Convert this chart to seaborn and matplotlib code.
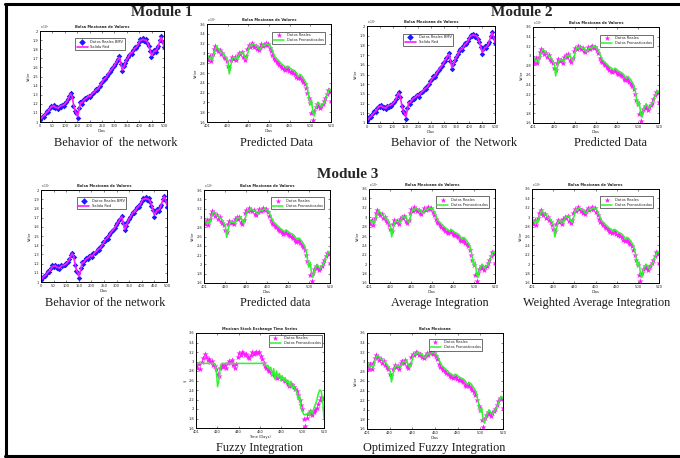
import numpy as np
import matplotlib
matplotlib.use("Agg")
import matplotlib.pyplot as plt
from matplotlib.lines import Line2D
import seaborn as sns

# Training period of the stock index (x 10^4): observed values and network output
growth_real = [1.02, 1.04, 1.07, 1.06, 1.10, 1.12, 1.11, 1.15, 1.18, 1.16,
               1.19, 1.15, 1.17, 1.14, 1.18, 1.17, 1.19, 1.18, 1.21, 1.22,
               1.25, 1.29, 1.32, 1.27, 1.18, 1.12, 1.10, 1.04, 1.15, 1.22,
               1.20, 1.24, 1.26, 1.25, 1.28, 1.29, 1.27, 1.31, 1.32, 1.33,
               1.36, 1.35, 1.38, 1.40, 1.43, 1.45, 1.48, 1.47, 1.51, 1.53,
               1.55, 1.57, 1.59, 1.62, 1.64, 1.67, 1.69, 1.72, 1.64, 1.56,
               1.61, 1.65, 1.68, 1.71, 1.74, 1.76, 1.75, 1.79, 1.82, 1.81,
               1.85, 1.88, 1.91, 1.90, 1.92, 1.89, 1.91, 1.87, 1.83, 1.78,
               1.71, 1.76, 1.79, 1.77, 1.81, 1.84, 1.90, 1.94, 1.88, 1.82]
growth_net = [1.03, 1.04, 1.06, 1.07, 1.09, 1.11, 1.12, 1.14, 1.17, 1.17,
              1.18, 1.16, 1.16, 1.15, 1.17, 1.18, 1.18, 1.19, 1.20, 1.22,
              1.24, 1.28, 1.31, 1.28, 1.20, 1.13, 1.10, 1.06, 1.13, 1.21,
              1.21, 1.23, 1.25, 1.26, 1.27, 1.29, 1.28, 1.30, 1.32, 1.33,
              1.35, 1.36, 1.37, 1.40, 1.42, 1.45, 1.47, 1.48, 1.50, 1.53,
              1.55, 1.57, 1.59, 1.61, 1.64, 1.66, 1.69, 1.71, 1.65, 1.57,
              1.60, 1.64, 1.68, 1.70, 1.73, 1.76, 1.76, 1.78, 1.81, 1.82,
              1.84, 1.87, 1.90, 1.90, 1.91, 1.90, 1.90, 1.88, 1.84, 1.79,
              1.73, 1.75, 1.78, 1.78, 1.80, 1.84, 1.89, 1.93, 1.89, 1.83]

# Test period: observed values, ensemble prediction and fuzzy-integrated prediction
test_real = [2.92, 2.86, 2.95, 2.84, 2.98, 3.08, 3.15, 3.10, 3.04, 3.06,
             2.98, 3.01, 2.93, 2.90, 2.84, 2.74, 2.70, 2.86, 2.93, 2.89,
             2.92, 2.86, 2.97, 3.01, 2.98, 3.03, 2.92, 2.87, 2.95, 3.10,
             3.17, 3.14, 3.21, 3.18, 3.14, 3.16, 3.09, 3.07, 3.13, 3.19,
             3.15, 3.18, 3.21, 3.17, 3.19, 3.12, 3.05, 2.96, 2.90, 2.87,
             2.83, 2.80, 2.77, 2.74, 2.71, 2.69, 2.66, 2.70, 2.68, 2.65,
             2.63, 2.62, 2.60, 2.57, 2.52, 2.49, 2.53, 2.50, 2.46, 2.42,
             2.38, 2.30, 2.20, 2.08, 1.99, 1.78, 1.65, 1.82, 1.90, 1.96,
             1.92, 1.88, 1.93, 1.97, 2.02, 2.10, 2.18, 2.25, 2.22, 2.03]
test_pred = [2.95, 2.93, 2.88, 2.93, 2.87, 2.99, 3.09, 3.14, 3.10, 3.05,
             3.05, 2.99, 3.00, 2.94, 2.90, 2.83, 2.58, 2.74, 2.87, 2.93,
             2.90, 2.92, 2.88, 2.97, 3.01, 2.99, 3.03, 2.93, 2.89, 2.96,
             3.10, 3.17, 3.15, 3.20, 3.18, 3.15, 3.16, 3.10, 3.08, 3.13,
             3.18, 3.15, 3.18, 3.20, 3.17, 3.18, 3.12, 3.06, 2.98, 2.92,
             2.89, 2.86, 2.83, 2.80, 2.77, 2.75, 2.73, 2.70, 2.74, 2.72,
             2.69, 2.67, 2.66, 2.64, 2.61, 2.56, 2.53, 2.57, 2.54, 2.50,
             2.45, 2.40, 2.31, 2.12, 1.95, 2.05, 1.80, 1.72, 1.88, 1.94,
             2.00, 1.95, 1.91, 1.96, 2.00, 2.05, 2.14, 2.22, 2.28, 2.24]
fuzzy_pred = [2.96, 2.96, 2.96, 2.96, 2.96, 2.96, 2.96, 2.96, 2.96, 2.96,
              2.96, 2.96, 2.96, 2.96, 2.85, 2.47, 2.62, 2.90, 2.96, 2.96,
              2.96, 2.96, 2.96, 2.96, 2.96, 2.96, 2.96, 2.96, 2.96, 2.96,
              2.96, 2.96, 2.96, 2.96, 2.96, 2.96, 2.96, 2.96, 2.96, 2.96,
              2.96, 2.96, 2.96, 2.96, 2.96, 2.96, 2.96, 2.96, 2.96, 2.90,
              2.92, 2.84, 2.88, 2.70, 2.85, 2.62, 2.80, 2.66, 2.75, 2.60,
              2.70, 2.58, 2.66, 2.55, 2.60, 2.47, 2.58, 2.44, 2.50, 2.40,
              2.38, 2.20, 2.30, 2.02, 1.95, 1.88, 1.88, 1.89, 1.92, 1.87,
              1.98, 1.90, 2.02, 2.10, 2.18, 2.32, 2.40, 2.38, 2.20, 1.80]

growth_xticklabels = ["0", "50", "100", "150", "200", "250", "300", "350", "400", "450", "500"]
test_xticklabels = ["401", "420", "440", "460", "480", "500", "520"]
growth_yticks = [1.0, 1.1, 1.2, 1.3, 1.4, 1.5, 1.6, 1.7, 1.8, 1.9, 2.0]
test_yticks = [1.6, 1.8, 2.0, 2.2, 2.4, 2.6, 2.8, 3.0, 3.2, 3.4, 3.6]

module_titles = ["Module 1", "Module 2", "Module 3"]
captions = ["Behavior of  the network", "Predicted Data", "Behavior of  the Network",
            "Predicted Data", "Behavior of the network", "Predicted data",
            "Average Integration", "Weighted Average Integration",
            "Fuzzy Integration", "Optimized Fuzzy Integration"]

sns.set_theme(style="white")
plt.rcParams["font.family"] = ["DejaVu Sans"]

W, H = 680, 458
fig = plt.figure(figsize=(W / 100, H / 100), dpi=100)
fig.patch.set_facecolor("white")

BLUE = "#1a1aff"
MAGENTA = "#ff1aff"
GREEN = "#2cf52c"
TINY = 2.6


def axes_px(left, top, right, bottom):
    return fig.add_axes([left / W, 1 - bottom / H, (right - left) / W, (bottom - top) / H])


def style_axes(ax, yticks, xlabels, title, xlabel, ylabel, offset=True):
    ax.set_ylim(yticks[0], yticks[-1])
    ax.set_yticks(yticks)
    ax.set_yticklabels([f"{v:g}" for v in yticks])
    ax.set_xlim(0, 89)
    ax.set_xticks(np.linspace(0, 89, len(xlabels)))
    ax.set_xticklabels(xlabels)
    ax.tick_params(direction="in", length=1.5, width=0.4, labelsize=TINY, pad=1.2,
                   top=True, right=True, bottom=True, left=True)
    for s in ax.spines.values():
        s.set_linewidth(0.7)
        s.set_color("black")
    ax.set_title(title, fontsize=TINY, fontweight="bold", pad=2)
    ax.set_xlabel(xlabel, fontsize=TINY, labelpad=0.8)
    ax.set_ylabel(ylabel, fontsize=TINY, labelpad=1.0)
    if offset:
        ax.text(0.0, 1.0, "x 10$^4$", transform=ax.transAxes, fontsize=TINY * 0.8,
                ha="left", va="bottom")


def growth_panel(box):
    ax = axes_px(*box)
    x = np.arange(len(growth_real))
    sns.scatterplot(x=x, y=growth_real, marker="D", color=BLUE, s=8, linewidth=0,
                    ax=ax, label="Datos Reales BMV")
    sns.lineplot(x=x, y=growth_net, color=MAGENTA, linewidth=1.2, ax=ax,
                 label="Salida Red", sort=False)
    style_axes(ax, growth_yticks, growth_xticklabels, "Bolsa Mexicana de Valores", "Días", "Valor")
    leg = ax.legend(loc="upper left", bbox_to_anchor=(0.27, 0.94), fontsize=TINY,
                    frameon=True, fancybox=False, edgecolor="black", borderpad=0.4,
                    handlelength=3, labelspacing=0.3, markerscale=1.2)
    leg.get_frame().set_linewidth(0.5)
    return ax


def test_panel(box, pred, title="Bolsa Mexicana de Valores", xlabel="Días", ylabel="Valor",
               labels=("Datos Reales", "Datos Pronosticados"), legend_anchor=(0.97, 0.94),
               offset=True):
    ax = axes_px(*box)
    x = np.arange(len(test_real))
    sns.scatterplot(x=x, y=test_real, marker="*", color=MAGENTA, s=22, linewidth=0,
                    ax=ax, label=labels[0])
    sns.lineplot(x=x, y=pred, color=GREEN, linewidth=1.1, ax=ax, label=labels[1], sort=False)
    style_axes(ax, test_yticks, test_xticklabels, title, xlabel, ylabel, offset)
    leg = ax.legend(loc="upper right", bbox_to_anchor=legend_anchor, fontsize=TINY,
                    frameon=True, fancybox=False, edgecolor="black", borderpad=0.4,
                    handlelength=3, labelspacing=0.3, markerscale=0.9)
    leg.get_frame().set_linewidth(0.5)
    return ax


# Row 1: modules 1 and 2
growth_panel((40, 31, 164, 122))
test_panel((207, 24, 331, 122), test_pred)
growth_panel((367, 26, 495, 123))
test_panel((533, 27, 659, 123), test_pred)

# Row 2: module 3 and the integration methods
growth_panel((41, 190, 167, 282))
test_panel((204, 190, 330, 283), test_pred)
test_panel((369, 189, 495, 283), test_pred)
test_panel((532, 189, 659, 283), test_pred)

# Row 3: fuzzy integration results
test_panel((196, 333, 324, 428), fuzzy_pred, title="Mexican Stock Exchange Time Series",
           xlabel="Time (Days)", ylabel="$", legend_anchor=(1.0, 1.0), offset=False)
test_panel((367, 333, 503, 429), test_pred, title="Bolsa Mexicana",
           xlabel="Días", ylabel="Valor", legend_anchor=(0.86, 0.96), offset=False)

# Module headings
serif = ["Liberation Serif", "DejaVu Serif"]
for label, (cx, base) in zip(module_titles, [(162, 16.5), (522, 16.5), (348, 178)]):
    fig.text(cx / W, 1 - base / H, label, ha="center", va="baseline", fontsize=11,
             fontweight="bold", family=serif)

# Captions under each panel
caption_pos = [(116, 146), (276, 146), (454, 146), (610, 146),
               (105, 306), (275, 306), (440, 306), (597, 306),
               (259, 451), (434, 451)]
for label, (cx, base) in zip(captions, caption_pos):
    fig.text(cx / W, 1 - base / H, label, ha="center", va="baseline", fontsize=8.8,
             family=serif, color="#1a1a1a")

# Page frame: top, left and bottom rules
frame_kw = dict(color="black", linewidth=2.2, transform=fig.transFigure)
fig.add_artist(Line2D([5 / W, 1], [1 - 3.5 / H, 1 - 3.5 / H], **frame_kw))
fig.add_artist(Line2D([6 / W, 6 / W], [1 - 3.5 / H, 1 - 456 / H], **frame_kw))
fig.add_artist(Line2D([5 / W, 1], [1 - 456 / H, 1 - 456 / H], **frame_kw))

fig.savefig("out.png", dpi=100, facecolor="white")
